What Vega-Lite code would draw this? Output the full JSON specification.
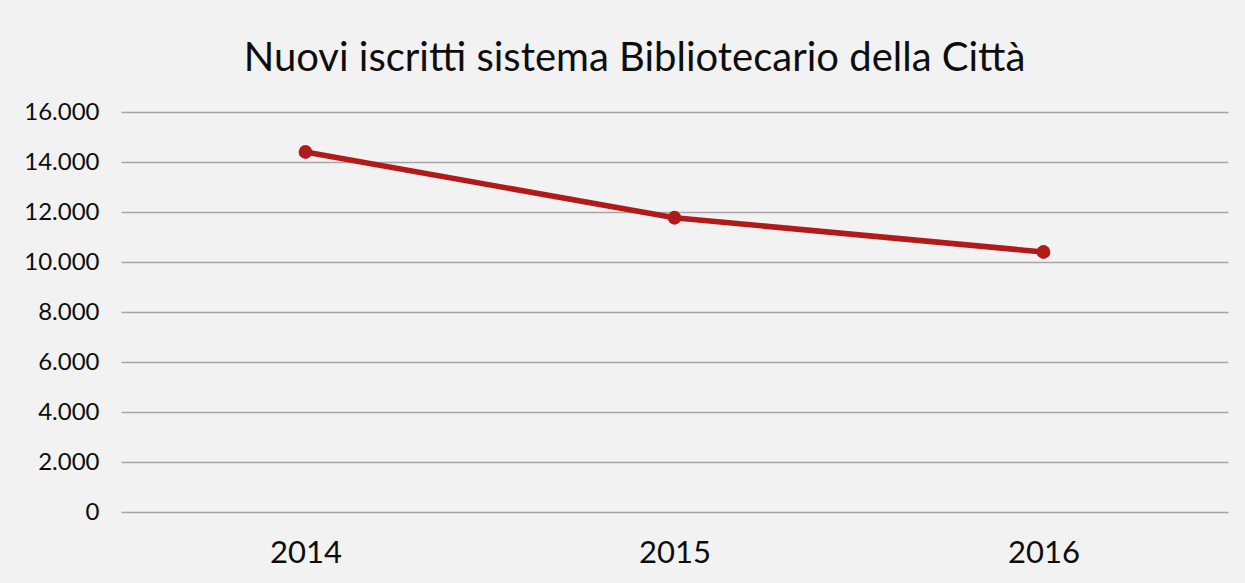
{
  "$schema": "https://vega.github.io/schema/vega-lite/v6.json",
  "autosize": "none",
  "width": 1107,
  "height": 400,
  "padding": {"left": 121, "top": 112, "right": 17, "bottom": 71},
  "background": "#f2f2f2",
  "title": {
    "text": "Nuovi iscritti sistema Bibliotecario della Città",
    "font": "Lato",
    "fontSize": 40,
    "fontWeight": "normal",
    "color": "#0d0d0d",
    "anchor": "middle",
    "dx": -40,
    "dy": 49,
    "offset": 38,
    "baseline": "alphabetic"
  },
  "data": {
    "values": [
      {"anno": "2014", "iscritti": 14400},
      {"anno": "2015", "iscritti": 11770},
      {"anno": "2016", "iscritti": 10400}
    ]
  },
  "config": {
    "view": {"stroke": null},
    "axis": {"labelFont": "Lato", "labelColor": "#0d0d0d"}
  },
  "encoding": {
    "x": {
      "field": "anno",
      "type": "ordinal",
      "scale": {"type": "point", "padding": 0.5},
      "axis": {
        "title": null,
        "labelAngle": 0,
        "labelFontSize": 31,
        "labelPadding": 26,
        "ticks": false,
        "domain": false,
        "grid": false
      }
    },
    "y": {
      "field": "iscritti",
      "type": "quantitative",
      "scale": {"domain": [0, 16000], "nice": false},
      "axis": {
        "title": null,
        "values": [0, 2000, 4000, 6000, 8000, 10000, 12000, 14000, 16000],
        "labelExpr": "replace(format(datum.value, ','), ',', '.')",
        "labelFontSize": 24,
        "labelPadding": 22,
        "ticks": false,
        "domain": false,
        "grid": true,
        "gridColor": "#a6a6a6",
        "gridWidth": 1.5
      }
    }
  },
  "layer": [
    {"mark": {"type": "line", "color": "#b11a1a", "strokeWidth": 5.5}},
    {"mark": {"type": "point", "filled": true, "shape": "circle", "color": "#b11a1a", "size": 190, "opacity": 1}}
  ]
}
